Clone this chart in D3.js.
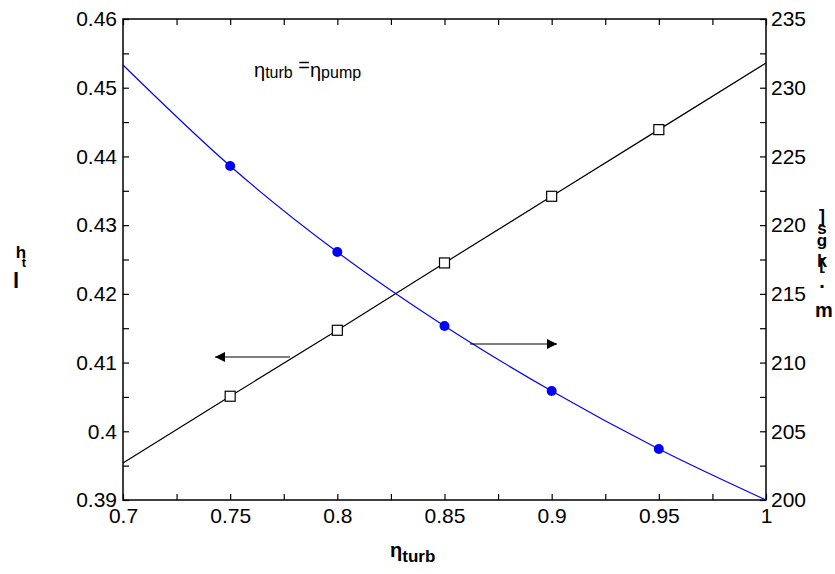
<!DOCTYPE html>
<html>
<head>
<meta charset="utf-8">
<script src="https://cdn.jsdelivr.net/npm/d3@7"></script>
<style>
  html, body { margin: 0; padding: 0; background: #fff; }
  svg { display: block; }
  text { font-family: "Liberation Sans", Arial, sans-serif; }
</style>
</head>
<body>
<svg id="chart" width="835" height="574"></svg>
<script>
// ---- data ----
const etaTurb = [0.7, 0.75, 0.8, 0.85, 0.9, 0.95, 1.0];
const etaThermal = [0.3954, 0.4051, 0.4147, 0.4245, 0.4342, 0.4439, 0.4536];
const massFlow = [231.65, 224.3, 218.04, 212.66, 207.93, 203.71, 200.0];
const markerIdx = [1, 2, 3, 4, 5];
const xTicks = [0.7, 0.75, 0.8, 0.85, 0.9, 0.95, 1];
const xMinor = [0.725, 0.775, 0.825, 0.875, 0.925, 0.975];
const yLeftTicks = [0.39, 0.4, 0.41, 0.42, 0.43, 0.44, 0.45, 0.46];
const yLeftMinor = [0.395, 0.405, 0.415, 0.425, 0.435, 0.445, 0.455];
const yRightTicks = [200, 205, 210, 215, 220, 225, 230, 235];
const yRightMinor = [202.5, 207.5, 212.5, 217.5, 222.5, 227.5, 232.5];

const svg = d3.select("#chart");
const L = 123, R = 766, T = 19, B = 500;
const x = d3.scaleLinear().domain([0.7, 1]).range([L, R]);
const yL = d3.scaleLinear().domain([0.39, 0.46]).range([B, T]);
const yR = d3.scaleLinear().domain([200, 235]).range([B, T]);
const fs = 21;
const fmt = d => String(+d.toFixed(3));

function styleAxis(g) {
  g.select(".domain").remove();
  g.selectAll(".tick line").attr("stroke", "#000").attr("stroke-width", 1.2);
  g.selectAll("text").attr("font-size", fs).attr("fill", "#000")
    .attr("font-family", "Liberation Sans, Arial, sans-serif");
}

// bottom
svg.append("g").attr("transform", `translate(0,${B})`)
  .call(d3.axisBottom(x).tickValues(xTicks).tickFormat(fmt).tickSizeInner(-6).tickSizeOuter(0).tickPadding(8))
  .call(styleAxis);
svg.append("g").attr("transform", `translate(0,${B})`)
  .call(d3.axisBottom(x).tickValues(xMinor).tickFormat("").tickSizeInner(-6).tickSizeOuter(0))
  .call(styleAxis);
// top
svg.append("g").attr("transform", `translate(0,${T})`)
  .call(d3.axisTop(x).tickValues(xTicks.concat(xMinor)).tickFormat("").tickSizeInner(-6).tickSizeOuter(0))
  .call(styleAxis);
// left
svg.append("g").attr("transform", `translate(${L},0)`)
  .call(d3.axisLeft(yL).tickValues(yLeftTicks).tickFormat(fmt).tickSizeInner(-6).tickSizeOuter(0).tickPadding(6))
  .call(styleAxis);
svg.append("g").attr("transform", `translate(${L},0)`)
  .call(d3.axisLeft(yL).tickValues(yLeftMinor).tickFormat("").tickSizeInner(-6).tickSizeOuter(0))
  .call(styleAxis);
// right
svg.append("g").attr("transform", `translate(${R},0)`)
  .call(d3.axisRight(yR).tickValues(yRightTicks).tickFormat(fmt).tickSizeInner(-6).tickSizeOuter(0).tickPadding(5))
  .call(styleAxis);
svg.append("g").attr("transform", `translate(${R},0)`)
  .call(d3.axisRight(yR).tickValues(yRightMinor).tickFormat("").tickSizeInner(-6).tickSizeOuter(0))
  .call(styleAxis);

// frame
svg.append("rect").attr("x", L).attr("y", T).attr("width", R - L).attr("height", B - T)
  .attr("fill", "none").attr("stroke", "#000").attr("stroke-width", 1.5);

// black line (left axis)
const blackData = etaTurb.map((v, i) => [v, etaThermal[i]]);
svg.append("path").datum(blackData)
  .attr("fill", "none").attr("stroke", "#000").attr("stroke-width", 1.2)
  .attr("d", d3.line().x(d => x(d[0])).y(d => yL(d[1])));
svg.selectAll(".sq").data(markerIdx.map(i => blackData[i])).join("rect")
  .attr("x", d => x(d[0]) - 5).attr("y", d => yL(d[1]) - 5)
  .attr("width", 10).attr("height", 10)
  .attr("fill", "#fff").attr("stroke", "#000").attr("stroke-width", 1.2);

// blue line (right axis)
const blueData = etaTurb.map((v, i) => [v, massFlow[i]]);
svg.append("path").datum(blueData)
  .attr("fill", "none").attr("stroke", "#0000ff").attr("stroke-width", 1.2)
  .attr("d", d3.line().curve(d3.curveMonotoneX).x(d => x(d[0])).y(d => yR(d[1])));
svg.selectAll(".dot").data(markerIdx.map(i => blueData[i])).join("circle")
  .attr("cx", d => x(d[0])).attr("cy", d => yR(d[1])).attr("r", 5)
  .attr("fill", "#0000ff");

// arrows
const defs = svg.append("defs");
defs.append("marker").attr("id", "ah").attr("viewBox", "0 0 10 10")
  .attr("refX", 10).attr("refY", 5).attr("markerWidth", 17).attr("markerHeight", 10)
  .attr("markerUnits", "userSpaceOnUse").attr("orient", "auto")
  .append("path").attr("d", "M0,0 L10,5 L0,10 Z").attr("fill", "#000");
svg.append("line").attr("x1", 290).attr("y1", 357).attr("x2", 215).attr("y2", 357)
  .attr("stroke", "#000").attr("stroke-width", 1.2).attr("marker-end", "url(#ah)");
svg.append("line").attr("x1", 470).attr("y1", 344).attr("x2", 557).attr("y2", 344)
  .attr("stroke", "#000").attr("stroke-width", 1.2).attr("marker-end", "url(#ah)");

// annotation
const ann = svg.append("text").attr("x", 254).attr("y", 77).attr("font-size", 20).attr("fill", "#000")
  .attr("font-family", "Open Sans, Liberation Sans, sans-serif");
ann.append("tspan").text("η");
ann.append("tspan").attr("font-size", 16).attr("dy", 1).text("turb");
ann.append("tspan").attr("font-size", 20).attr("dy", -6).text(" =");
ann.append("tspan").attr("font-size", 20).attr("dy", 5).text("η");
ann.append("tspan").attr("font-size", 16).attr("dy", 1).text("pump");

// x label
const xl = svg.append("text").attr("x", 390).attr("y", 557).attr("font-size", 20)
  .attr("font-weight", "bold").attr("fill", "#000");
xl.append("tspan").text("η");
xl.append("tspan").attr("font-size", 17).attr("dy", 5).text("turb");

// left y label (glyphs as drawn in the reference)
svg.append("text").attr("x", 21).attr("y", 258).attr("font-size", 17).attr("font-weight", "bold")
  .attr("text-anchor", "middle").text("h");
svg.append("text").attr("x", 24).attr("y", 267).attr("font-size", 13).attr("font-weight", "bold")
  .attr("text-anchor", "middle").text("t");
svg.append("text").attr("x", 16).attr("y", 288).attr("font-size", 22).attr("font-weight", "bold")
  .attr("text-anchor", "middle").text("l");

// right y label (stacked glyphs)
const rlab = [["]", 222, 18], ["s", 234, 17], ["g", 246, 17], ["k", 267, 18], ["[", 270, 17], [".", 288, 20]];
rlab.forEach(([c, y, s]) => {
  svg.append("text").attr("x", 822).attr("y", y).attr("font-size", s).attr("font-weight", "bold")
    .attr("text-anchor", "middle").text(c);
});
svg.append("text").attr("x", 824).attr("y", 317).attr("font-size", 20).attr("font-weight", "bold")
  .attr("text-anchor", "middle").text("m");
</script>
</body>
</html>
